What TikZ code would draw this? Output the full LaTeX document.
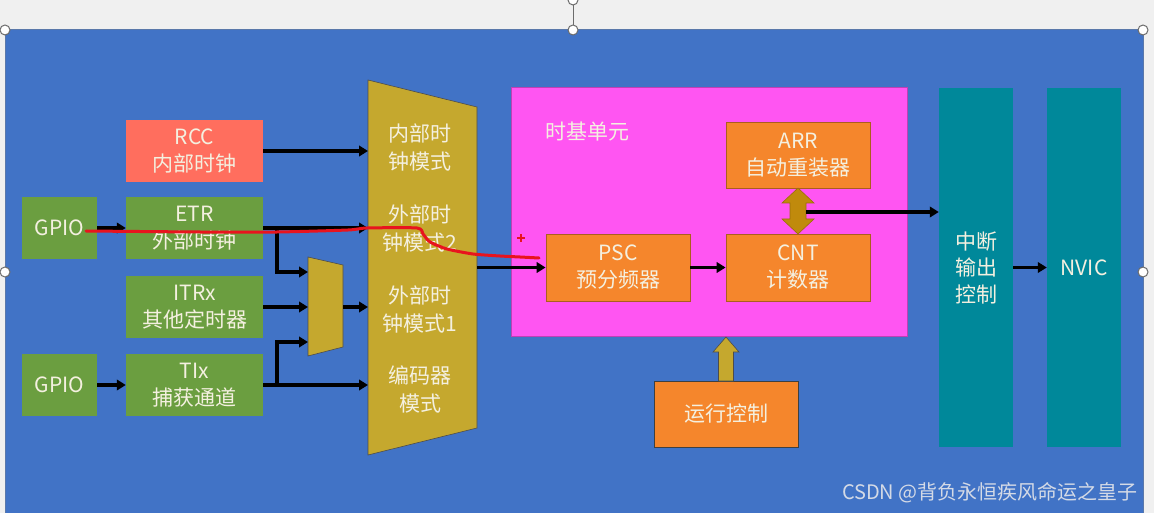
\documentclass[tikz,border=0pt]{standalone}
\usepackage{fontspec}
\setmainfont{Noto Sans CJK SC}
\usetikzlibrary{arrows.meta}
\definecolor{bgc}{HTML}{F0F0F0}
\definecolor{slide}{HTML}{4173C6}
\definecolor{grn}{HTML}{6B9E40}
\definecolor{salmon}{HTML}{FF6E5E}
\definecolor{mux}{HTML}{C5A82E}
\definecolor{pinkc}{HTML}{FF55F2}
\definecolor{orng}{HTML}{F5862C}
\definecolor{tealc}{HTML}{00889A}
\definecolor{dgold}{HTML}{C08A0C}
\definecolor{txtc}{HTML}{F4F0E0}
\definecolor{redc}{HTML}{E8141E}
\definecolor{wmark}{HTML}{D4DAE6}
\begin{document}
\begin{tikzpicture}[x=1pt,y=-1pt,
  txt/.style={text=txtc, font=\fontsize{21}{27}\selectfont, align=center, inner sep=0pt},
  box/.style={txt, rectangle, minimum width=137pt, minimum height=62pt},
  gbox/.style={box, fill=grn},
  rbox/.style={box, fill=salmon},
  obox/.style={box, fill=orng, draw=orng!70!black, line width=0.8pt, minimum width=144pt, minimum height=67pt},
  tbox/.style={txt, rectangle, fill=tealc, minimum width=74pt, minimum height=359pt, font=\fontsize{21}{26.5}\selectfont},
  arr/.style={draw=black, line width=3.4pt, -{Triangle[length=9pt,width=10.5pt]}},
  handle/.style={circle, draw=gray!85!black, fill=white, line width=1pt, minimum size=10pt, inner sep=0pt}
]
\useasboundingbox (0,0) rectangle (1154,513);
\fill[bgc] (0,0) rectangle (1154,513);
\draw[slide!60!gray, line width=1pt, fill=slide] (5,30) rectangle (1143,520);

% pink time base unit
\node[rectangle, fill=pinkc, draw=pinkc!75!black, line width=0.8pt, minimum width=396pt, minimum height=249pt] (tbu) at (709,211.5) {};
\node[txt, anchor=west] (tbl) at (545,132) {时基单元};

% left boxes
\node[rbox] (rcc) at (194.5,151) {RCC\\内部时钟};
\node[gbox, minimum width=75pt] (gpio1) at (59.5,228) {GPIO};
\node[gbox] (etr) at (194.5,228) {ETR\\外部时钟};
\node[gbox] (itr) at (194.5,307) {ITRx\\其他定时器};
\node[gbox, minimum width=75pt] (gpio2) at (59.5,385) {GPIO};
\node[gbox] (tix) at (194.5,385) {TIx\\捕获通道};

% small mux
\draw[fill=mux, draw=gray!60!black, line width=0.6pt] (308,257) -- (343,265) -- (343,347) -- (308,356) -- cycle;
% big mux
\draw[fill=mux, draw=gray!60!black, line width=0.6pt] (368,80) -- (477,107) -- (477,428) -- (368,455) -- cycle;
\node[txt, font=\fontsize{21}{28}\selectfont] (mm1) at (420,147.5) {内部时\\钟模式};
\node[txt, font=\fontsize{21}{28}\selectfont] (mm2) at (420,228.5) {外部时\\钟模式2};
\node[txt, font=\fontsize{21}{28}\selectfont] (mm3) at (420,309) {外部时\\钟模式1};
\node[txt, font=\fontsize{21}{28}\selectfont] (mm4) at (420,389.5) {编码器\\模式};

\coordinate (muxL) at (368,0);
\coordinate (sm1) at (308,272);
\coordinate (sm2) at (308,307);
\coordinate (sm3) at (308,342);
\coordinate (smo) at (343,307);
\coordinate (j1) at (277,228);
\coordinate (j2) at (277,385);
\coordinate (mo) at (477,267.5);

% time base boxes
\node[obox] (psc) at (618,267.5) {PSC\\预分频器};
\node[obox] (cnt) at (798,267.5) {CNT\\计数器};
\node[obox, minimum height=66pt] (arr) at (798,155) {ARR\\自动重装器};
\node[obox, minimum height=66pt, draw=gray!50!black] (run) at (726,414) {运行控制};

% teal columns
\node[tbox] (int) at (976,267.5) {中断\\输出\\控制};
\node[tbox] (nvic) at (1084,267.5) {NVIC};

% arrows
\draw[arr] (rcc.east) -- (rcc.east -| muxL);
\draw[arr] (gpio1.east) -- (etr.west);
\draw[arr] (etr.east) -- (etr.east -| muxL);
\draw[arr] (j1) |- (sm1);
\draw[arr] (itr.east) -- (sm2);
\draw[arr] (gpio2.east) -- (tix.west);
\draw[arr] (tix.east) -- (tix.east -| muxL);
\draw[arr] (j2) |- (sm3);
\draw[arr] (smo) -- (smo -| muxL);
\draw[arr] (mo) -- (psc.west);
\draw[arr] (psc.east) -- (cnt.west);
\draw[arr] (int.east) -- (nvic.west);

% double block arrow ARR <-> CNT
\draw[fill=dgold, draw=dgold!80!black, line width=0.6pt] (798,188) -- (814,203) -- (806,203) -- (806,219) -- (814,219) -- (798,234) -- (782,219) -- (790,219) -- (790,203) -- (782,203) -- cycle;
\coordinate (dbl) at (806,212);
\draw[arr] (dbl) -- (dbl -| int.west);

% up block arrow run -> time base
\draw[fill=mux, draw=gray!60!black, line width=0.6pt] (718.5,381) -- (718.5,352) -- (713,352) -- (726,337) -- (739,352) -- (733.5,352) -- (733.5,381) -- cycle;

% red hand-drawn line
\draw[redc, line width=3pt, line cap=round, line join=round] plot[smooth, tension=0.4] coordinates {(86,231) (200,232) (277,232) (348,230) (367,228) (417,228) (423,234) (430,242) (447,249) (473,254) (500,256) (520,257) (539,258)};
\draw[redc, line width=1.5pt] (517,238) -- (525,238) (521,234) -- (521,242);

% watermark
\node[anchor=east, text=wmark, font=\fontsize{20}{22}\selectfont, inner sep=0pt] (wm) at (1138,493) {CSDN @背负永恒疾风命运之皇子};

% selection handles
\draw[gray!85!black, line width=1pt] (573,2) -- (573,26);
\node[handle] (h0) at (573,0) {};
\node[handle] (h1) at (5,30) {};
\node[handle] (h2) at (573,30) {};
\node[handle] (h3) at (1143,30) {};
\node[handle] (h4) at (5,272) {};
\node[handle] (h5) at (1143,272) {};
\end{tikzpicture}
\end{document}
